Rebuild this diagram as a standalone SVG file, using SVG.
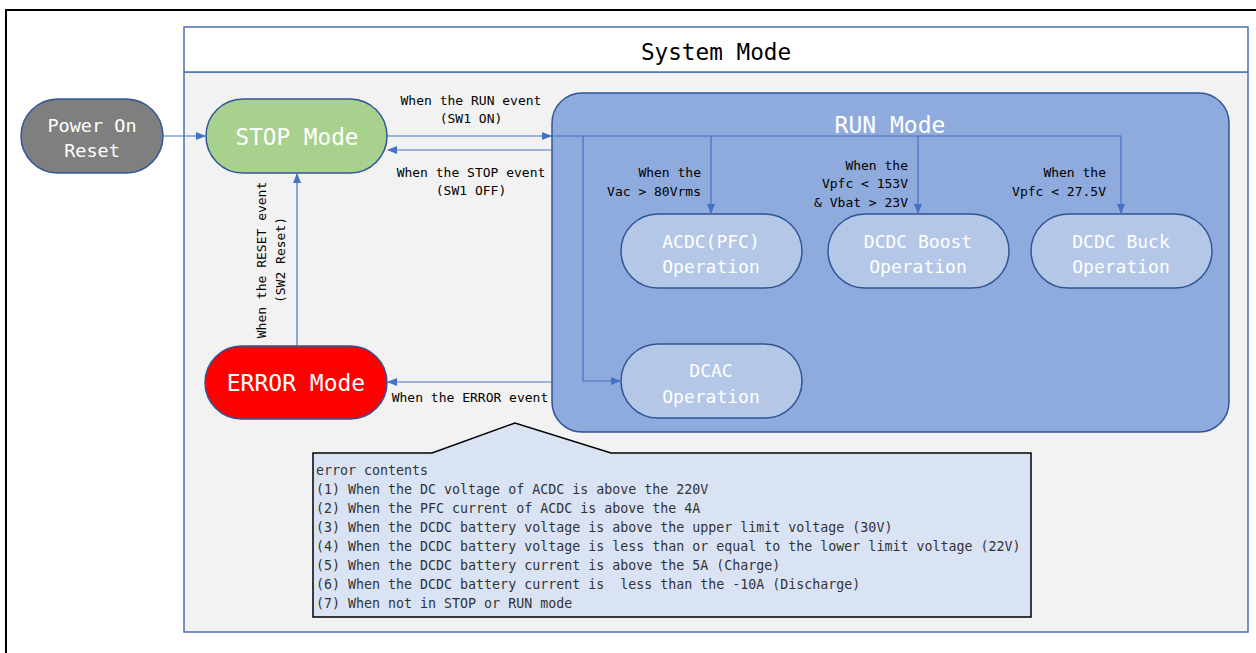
<svg xmlns="http://www.w3.org/2000/svg" width="1256" height="653" viewBox="0 0 1256 653">
<defs>
<marker id="ah" markerWidth="10" markerHeight="8" refX="9" refY="4" orient="auto" markerUnits="userSpaceOnUse">
<path d="M0,0 L10,4 L0,8 Z" fill="#4472c4"/>
</marker>
<style>
.mono{font-family:"DejaVu Sans Mono","Liberation Mono",monospace;}
.node{stroke:#2f5597;stroke-width:1.5;}
.nt{fill:#ffffff;text-anchor:middle;dominant-baseline:central;}
.lbl{font-size:13px;fill:#000;dominant-baseline:central;}
.conn{fill:none;stroke:#4472c4;stroke-width:1.2;}
.err{font-size:13.3px;fill:#333;dominant-baseline:central;}
</style>
</defs>
<rect x="0" y="0" width="1256" height="653" fill="#ffffff"/>
<rect x="6" y="10" width="1270" height="670" fill="#ffffff" stroke="#000" stroke-width="2"/>
<g id="system-mode">
<rect x="184" y="72" width="1064" height="560" fill="#f2f2f2" stroke="#4a6fb5" stroke-width="1.5"/>
<rect x="184" y="27" width="1064" height="45" fill="#ffffff" stroke="#4a6fb5" stroke-width="1.5"/>
<text class="mono" x="716" y="52" font-size="22.7" fill="#000" text-anchor="middle" dominant-baseline="central">System Mode</text>
</g>
<g id="run-mode">
<rect class="node" x="552" y="93" width="677" height="339" rx="30" fill="#8faadc"/>
<text class="mono nt" x="890" y="125" font-size="23">RUN Mode</text>
</g>
<g id="power-on-reset">
<rect class="node" x="21" y="99" width="142" height="74" rx="37" fill="#7f7f7f"/>
<text class="mono nt" x="92" y="125" font-size="18.5">Power On</text>
<text class="mono nt" x="92" y="150" font-size="18.5">Reset</text>
</g>
<g id="stop-mode">
<rect class="node" x="206" y="99" width="181" height="74" rx="37" fill="#a9d18e"/>
<text class="mono nt" x="297" y="137" font-size="22.7">STOP Mode</text>
</g>
<g id="error-mode">
<rect class="node" x="205" y="346" width="182" height="73" rx="36.5" fill="#ff0000"/>
<text class="mono nt" x="296" y="383" font-size="23">ERROR Mode</text>
</g>
<g id="acdc">
<rect class="node" x="621" y="214" width="181" height="74" rx="37" fill="#b4c7e7"/>
<text class="mono nt" x="711" y="241" font-size="18">ACDC(PFC)</text>
<text class="mono nt" x="711" y="266" font-size="18">Operation</text>
</g>
<g id="dcdc-boost">
<rect class="node" x="828" y="214" width="181" height="74" rx="37" fill="#b4c7e7"/>
<text class="mono nt" x="918" y="241" font-size="18">DCDC Boost</text>
<text class="mono nt" x="918" y="266" font-size="18">Operation</text>
</g>
<g id="dcdc-buck">
<rect class="node" x="1031" y="214" width="181" height="74" rx="37" fill="#b4c7e7"/>
<text class="mono nt" x="1121" y="241" font-size="18">DCDC Buck</text>
<text class="mono nt" x="1121" y="266" font-size="18">Operation</text>
</g>
<g id="dcac">
<rect class="node" x="621" y="344" width="181" height="74" rx="37" fill="#b4c7e7"/>
<text class="mono nt" x="711" y="370" font-size="18">DCAC</text>
<text class="mono nt" x="711" y="396" font-size="18">Operation</text>
</g>
<g id="connectors">
<line class="conn" x1="163" y1="136" x2="205" y2="136" marker-end="url(#ah)"/>
<line class="conn" x1="387" y1="136" x2="551" y2="136" marker-end="url(#ah)"/>
<polyline class="conn" points="551,136 1121,136 1121,213" marker-end="url(#ah)"/>
<line class="conn" x1="711" y1="136" x2="711" y2="213" marker-end="url(#ah)"/>
<line class="conn" x1="918" y1="136" x2="918" y2="213" marker-end="url(#ah)"/>
<polyline class="conn" points="583,136 583,381 620,381" marker-end="url(#ah)"/>
<line class="conn" x1="552" y1="150" x2="388" y2="150" marker-end="url(#ah)"/>
<line class="conn" x1="552" y1="382" x2="388" y2="382" marker-end="url(#ah)"/>
<line class="conn" x1="297" y1="346" x2="297" y2="174" marker-end="url(#ah)"/>
<text class="mono lbl" x="471" y="100" text-anchor="middle">When the RUN event</text>
<text class="mono lbl" x="471" y="118" text-anchor="middle">(SW1 ON)</text>
<text class="mono lbl" x="471" y="172" text-anchor="middle">When the STOP event</text>
<text class="mono lbl" x="471" y="190" text-anchor="middle">(SW1 OFF)</text>
<text class="mono lbl" x="470" y="397" text-anchor="middle">When the ERROR event</text>
<text class="mono lbl" transform="translate(261,260) rotate(-90)" x="0" y="0" text-anchor="middle">When the RESET event</text>
<text class="mono lbl" transform="translate(280,260) rotate(-90)" x="0" y="0" text-anchor="middle">(SW2 Reset)</text>
<text class="mono lbl" x="701" y="172" text-anchor="end">When the</text>
<text class="mono lbl" x="701" y="191" text-anchor="end">Vac &gt; 80Vrms</text>
<text class="mono lbl" x="908" y="165" text-anchor="end">When the</text>
<text class="mono lbl" x="908" y="183" text-anchor="end">Vpfc &lt; 153V</text>
<text class="mono lbl" x="908" y="202" text-anchor="end">&amp; Vbat &gt; 23V</text>
<text class="mono lbl" x="1106" y="172" text-anchor="end">When the</text>
<text class="mono lbl" x="1106" y="191" text-anchor="end">Vpfc &lt; 27.5V</text>
</g>
<g id="error-contents">
<path d="M313,453 L432,453 L515,423 L611,453 L1031,453 L1031,617 L313,617 Z" fill="#dae3f3" stroke="#000" stroke-width="1.5"/>
<text class="mono err" x="316" y="470">error contents</text>
<text class="mono err" x="316" y="489">(1) When the DC voltage of ACDC is above the 220V</text>
<text class="mono err" x="316" y="508">(2) When the PFC current of ACDC is above the 4A</text>
<text class="mono err" x="316" y="527">(3) When the DCDC battery voltage is above the upper limit voltage (30V)</text>
<text class="mono err" x="316" y="546">(4) When the DCDC battery voltage is less than or equal to the lower limit voltage (22V)</text>
<text class="mono err" x="316" y="565">(5) When the DCDC battery current is above the 5A (Charge)</text>
<text class="mono err" x="316" y="584" xml:space="preserve">(6) When the DCDC battery current is  less than the -10A (Discharge)</text>
<text class="mono err" x="316" y="603">(7) When not in STOP or RUN mode</text>
</g>
</svg>
